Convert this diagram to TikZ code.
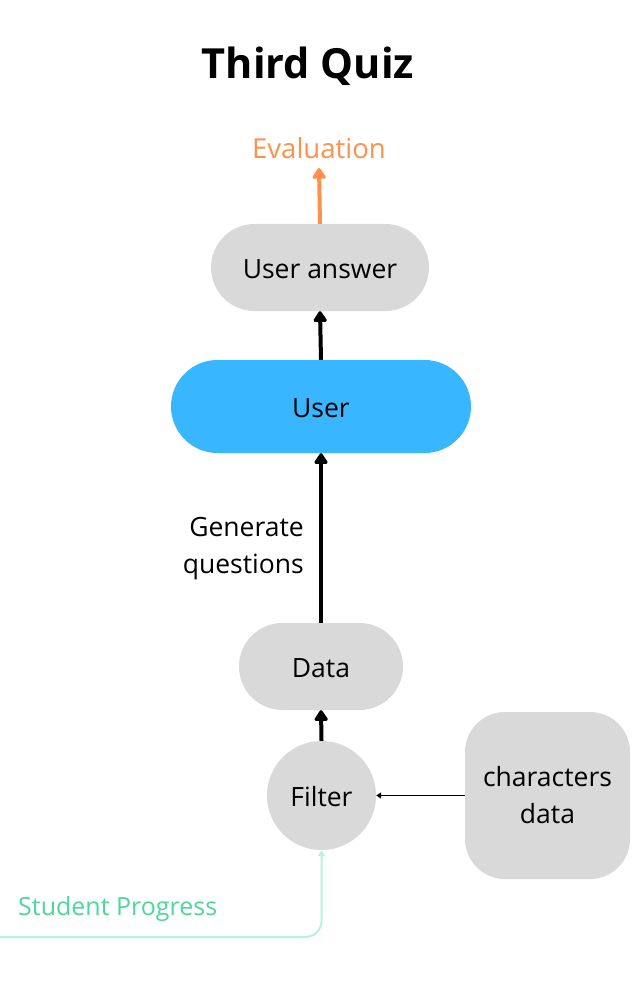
\documentclass[tikz,border=0pt]{standalone}
\usepackage{fontspec}
\setmainfont{Open Sans}
\usetikzlibrary{arrows.meta,shapes.geometric}
\definecolor{boxgray}{HTML}{D9D9D9}
\definecolor{userblue}{HTML}{38B6FF}
\definecolor{evalorange}{HTML}{FF914D}
\definecolor{greentext}{HTML}{4FD69C}
\definecolor{greenline}{HTML}{B5F3DE}
\begin{document}
\begin{tikzpicture}[x=1pt,y=-1pt,
  txt/.style={font=\fontsize{26.5}{37}\selectfont, inner sep=0pt},
  pill/.style={txt, fill=boxgray, draw=none, rectangle},
  onel/.style={text height=22pt, text depth=0pt},
  bigarrow/.style={line width=4pt, -{Triangle[length=12pt,width=15pt,round]}},
  thinarrow/.style={line width=1.6pt, -{Triangle[length=5pt,width=6pt]}},
]
\useasboundingbox[fill=white] (0,0) rectangle (640,1000);

\node[font=\bfseries\fontsize{41.5}{48}\selectfont, inner sep=0pt] (title) at (308,66) {Third Quiz};

\node[txt, font=\fontsize{27.5}{37}\selectfont, text=evalorange] (eval) at (319,148) {Evaluation};

\node[pill, onel, minimum width=218pt, minimum height=87pt, rounded corners=43.5pt] (ua) at (320,267.5) {User answer};
\node[pill, onel, fill=userblue, minimum width=300pt, minimum height=93pt, rounded corners=46.5pt] (user) at (321,406.5) {User};
\node[pill, onel, minimum width=164pt, minimum height=87pt, rounded corners=43.5pt] (data) at (321,666.5) {Data};
\node[txt, onel, fill=boxgray, circle, minimum size=109pt] (filter) at (321.5,795.5) {Filter};
\node[pill, minimum width=165pt, minimum height=167pt, rounded corners=40pt, align=center] (chars) at (547.5,795.5) {characters\\data};

\node[txt, align=right, anchor=east] (gen) at (304,549) {Generate\\questions};
\node[txt, font=\fontsize{25}{30}\selectfont, text=greentext, anchor=west] (sp) at (18,909) {Student Progress};

\coordinate (spstart) at (0,937);

\draw[line width=4pt, evalorange, -{Triangle[length=12pt,width=15pt,round]}] (ua.north) -- (eval.south |- 0,168);
\draw[bigarrow] (user.north) -- (ua.south);
\draw[bigarrow] (data.north) -- (user.south);
\draw[bigarrow] (filter.north) -- (data.south);
\draw[thinarrow] (chars.west) -- (filter.east);
\draw[greenline, line width=2pt, rounded corners=16pt, -{Triangle[length=6pt,width=7pt]}] (spstart) -- (321.5,937) -- (filter.south);
\end{tikzpicture}
\end{document}
